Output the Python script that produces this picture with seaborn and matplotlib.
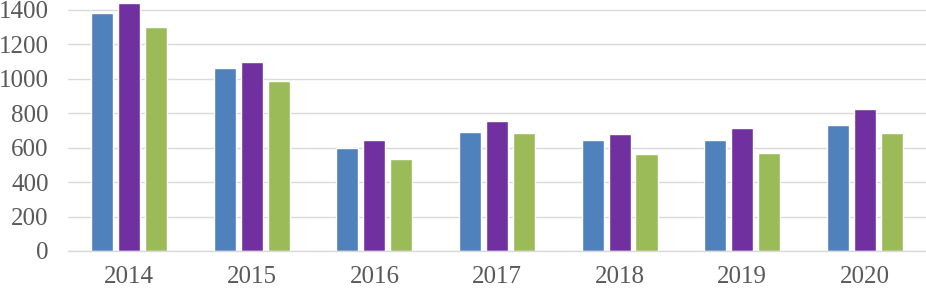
import matplotlib
matplotlib.use("Agg")
import matplotlib.pyplot as plt
import seaborn as sns
import pandas as pd

years = ["2014", "2015", "2016", "2017", "2018", "2019", "2020"]
series_a = [1385, 1065, 600, 692, 647, 647, 733]
series_b = [1440, 1100, 646, 757, 682, 716, 827]
series_c = [1300, 990, 533, 687, 565, 571, 687]
series_names = ["Series 1", "Series 2", "Series 3"]
colors = ["#4F81BD", "#7030A0", "#9BBB59"]

rows = []
for name, vals in zip(series_names, [series_a, series_b, series_c]):
    for y, v in zip(years, vals):
        rows.append({"year": y, "series": name, "value": v})
df = pd.DataFrame(rows)

sns.set_theme(style="white")
plt.rcParams["font.family"] = ["Liberation Serif", "DejaVu Serif"]

fig = plt.figure(figsize=(9.26, 2.89), dpi=100)
ax = fig.add_axes([0.0734, 0.1315, 0.9266, 0.8685])
sns.barplot(data=df, x="year", y="value", hue="series", palette=colors,
            order=years, hue_order=series_names, width=0.66, gap=0.18,
            ax=ax, legend=False, saturation=1)

ax.set_xlim(-0.5, 6.5)
ax.set_ylim(0, 1458)
ax.set_yticks(range(0, 1401, 200))
ax.yaxis.grid(True, color="#d9d9d9", linewidth=1)
ax.set_axisbelow(True)
for s in ["top", "right", "left"]:
    ax.spines[s].set_visible(False)
ax.spines["bottom"].set_color("#d9d9d9")
ax.spines["bottom"].set_linewidth(1)
ax.set_xlabel("")
ax.set_ylabel("")
ax.tick_params(axis="both", length=0, labelsize=18, labelcolor="#595959")
ax.tick_params(axis="y", pad=14)
ax.tick_params(axis="x", pad=11)

fig.savefig("out.png", dpi=100)
